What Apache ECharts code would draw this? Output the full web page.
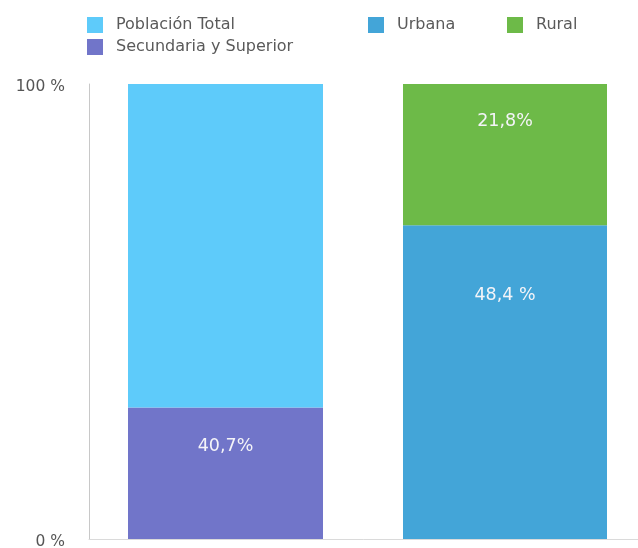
<!DOCTYPE html>
<html>
<head>
<meta charset="utf-8">
<script src="https://cdn.jsdelivr.net/npm/echarts@6/dist/echarts.min.js"></script>
<style>
  html, body { margin: 0; padding: 0; background: #fff; }
  #chart { width: 638px; height: 548px; }
</style>
</head>
<body>
<div id="chart"></div>
<script>
// Two columns: education level vs. total population, and urban vs. rural split
const categories = ['Educación', 'Área'];
const secundaria = [40.7, null];
const poblacionTotal = [100, null];
const urbana = [null, 48.4];
const rural = [null, 21.8];
const yTicks = [0, 100];

const seriesDefs = [
  { name: 'Secundaria y Superior', data: secundaria, stack: 'educacion', color: '#7175C9', suffix: '%', showLabel: true, dist: 30 },
  { name: 'Población Total', data: poblacionTotal, stack: 'educacion', color: '#5ECBFA', suffix: '%', showLabel: false, dist: 0 },
  { name: 'Urbana', data: urbana, stack: 'area', color: '#43A5D8', suffix: ' %', showLabel: true, dist: 61 },
  { name: 'Rural', data: rural, stack: 'area', color: '#6DBA48', suffix: '%', showLabel: true, dist: 28 }
];

// Each column is scaled to 100 %
const totals = categories.map((_, i) =>
  seriesDefs.reduce((s, d) => s + (d.data[i] == null ? 0 : d.data[i]), 0));

const fmt = (v, suffix) => v.toFixed(1).replace('.', ',') + suffix;

const FONT = 'DejaVu Sans';

const series = seriesDefs.map(d => ({
  name: d.name,
  type: 'bar',
  stack: d.stack,
  barWidth: d.stack === 'educacion' ? 195 : 204,
  barGap: '-101.795%',
  itemStyle: { color: d.color },
  label: {
    show: d.showLabel,
    position: 'insideTop',
    distance: d.dist,
    color: '#F4F4F8',
    fontFamily: FONT,
    fontSize: 17.5,
    formatter: p => fmt(d.data[p.dataIndex], d.suffix)
  },
  emphasis: { disabled: true },
  data: d.data.map((v, i) => v == null ? null : v / totals[i] * 100)
}));

const legendBase = {
  orient: 'vertical',
  top: 17,
  padding: 0,
  icon: 'rect',
  itemWidth: 16,
  itemHeight: 16,
  itemGap: 6,
  selectedMode: false,
  textStyle: { color: '#5A5A5A', fontFamily: FONT, fontSize: 16, padding: [0, 0, 0, 8] }
};

const chart = echarts.init(document.getElementById('chart'), null, { renderer: 'canvas' });
chart.setOption({
  animation: false,
  backgroundColor: '#fff',
  legend: [
    Object.assign({}, legendBase, { left: 87, data: ['Población Total', 'Secundaria y Superior'] }),
    Object.assign({}, legendBase, { left: 368, data: ['Urbana'] }),
    Object.assign({}, legendBase, { left: 507, data: ['Rural'] })
  ],
  grid: { left: 89, top: 84, width: 557, bottom: 9, containLabel: false, outerBoundsMode: 'none' },
  xAxis: {
    type: 'category',
    data: categories,
    axisLine: { show: true, lineStyle: { color: '#DADADA', width: 1 } },
    axisTick: { show: false },
    axisLabel: { show: false },
    splitLine: { show: false }
  },
  yAxis: {
    type: 'value',
    min: yTicks[0],
    max: yTicks[yTicks.length - 1],
    interval: yTicks[1] - yTicks[0],
    axisLine: { show: true, lineStyle: { color: '#C8C8C8', width: 1 } },
    axisTick: { show: false },
    splitLine: { show: false },
    axisLabel: {
      margin: 24,
      formatter: v => '{t|' + v + ' %}',
      rich: {
        t: { color: '#555', fontFamily: FONT, fontSize: 15.5, padding: [6, 0, 0, 0] }
      }
    }
  },
  series: series
});
</script>
</body>
</html>
